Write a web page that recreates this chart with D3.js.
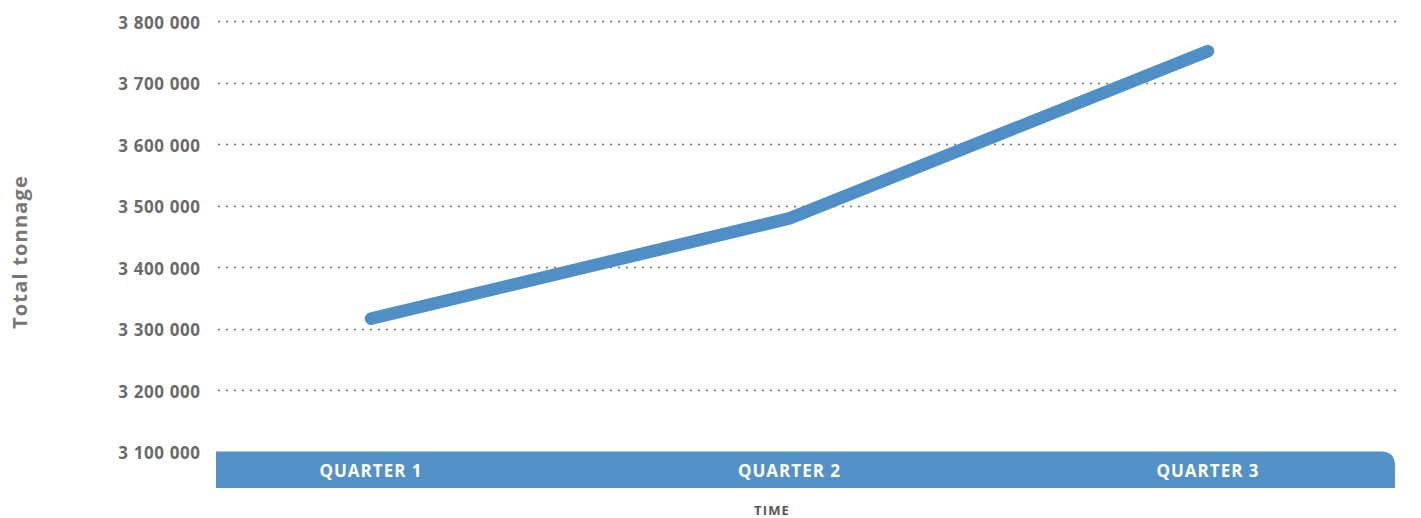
<!DOCTYPE html>
<html><head><meta charset="utf-8">
<script src="https://cdn.jsdelivr.net/npm/d3@7"></script>
<style>
html,body{margin:0;padding:0;background:#fff;}
svg{display:block;font-family:"Open Sans",Lato,sans-serif;}
</style></head>
<body>
<svg id="chart" width="1421" height="518"></svg>
<script>
const categories = ["QUARTER 1", "QUARTER 2", "QUARTER 3"];
const tonnage = [3316000, 3479000, 3751000];
const yTicks = [3100000, 3200000, 3300000, 3400000, 3500000, 3600000, 3700000, 3800000];
const yTitle = "Total tonnage";
const xTitle = "TIME";

const svg = d3.select("#chart");
const plotLeft = 216, plotRight = 1398;
const y = d3.scaleLinear().domain([3100000, 3800000]).range([451.5, 21]);
const x = d3.scalePoint().domain(categories).range([371, 1208]);

const fmt = v => d3.format(",")(v).replace(/,/g, " ");

// grid lines
svg.append("g").selectAll("line").data(yTicks.filter(t => t > 3100000)).join("line")
  .attr("x1", 219).attr("x2", plotRight)
  .attr("y1", d => Math.round(y(d)) + 0.5).attr("y2", d => Math.round(y(d)) + 0.5)
  .attr("stroke", "#6b6b6b").attr("stroke-width", 2)
  .attr("stroke-linecap", "round").attr("stroke-dasharray", "0 8");

// y tick labels
svg.append("g").selectAll("text").data(yTicks).join("text")
  .attr("x", 200.6).attr("y", d => y(d) + 1.8).attr("dy", "0.35em")
  .attr("text-anchor", "end").attr("fill", "#6a6a6a").attr("font-weight", 700)
  .attr("font-size", 17).attr("letter-spacing", 0.6).text(fmt);

// bottom band with rounded top-right corner
const bTop = y(3100000), bBot = 488, r = 14;
svg.append("path")
  .attr("d", `M${plotLeft},${bTop} H${1395 - r} Q1395,${bTop} 1395,${bTop + r} V${bBot} H${plotLeft} Z`)
  .attr("fill", "#5491c7");

svg.append("g").selectAll("text").data(categories).join("text")
  .attr("x", d => x(d)).attr("y", 470.5).attr("dy", "0.36em")
  .attr("text-anchor", "middle").attr("fill", "#fff").attr("font-weight", 700)
  .attr("font-size", 17).attr("letter-spacing", 1).text(d => d);

// line
const line = d3.line().x((d, i) => x(categories[i])).y(d => y(d));
svg.append("path").datum(tonnage).attr("d", line)
  .attr("fill", "none").attr("stroke", "#4f8fc5").attr("stroke-width", 12.5)
  .attr("stroke-linecap", "round").attr("stroke-linejoin", "round");

// axis titles
svg.append("text").attr("transform", "translate(27,252) rotate(-90)")
  .attr("text-anchor", "middle").attr("fill", "#777").attr("font-weight", 700)
  .attr("font-size", 20).attr("letter-spacing", 1.2).text(yTitle);
svg.append("text").attr("x", 772).attr("y", 510).attr("dy", "0.36em").attr("text-anchor", "middle")
  .attr("fill", "#555").attr("font-weight", 700).attr("font-size", 13).attr("letter-spacing", 1.2).text(xTitle);
</script>
</body></html>
